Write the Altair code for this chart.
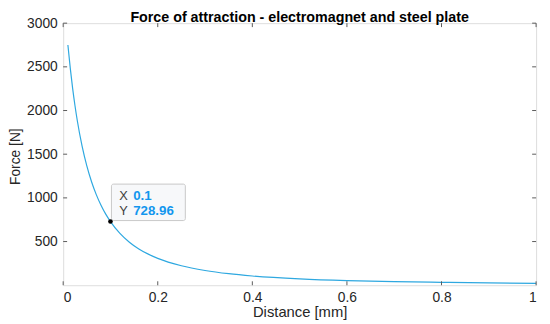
import altair as alt
import pandas as pd

# Curve values
distance = [0.01, 0.015, 0.02, 0.025, 0.03, 0.04, 0.05, 0.06, 0.07, 0.08, 0.09, 0.10,
            0.12, 0.14, 0.16, 0.18, 0.20, 0.25, 0.30, 0.35, 0.40, 0.50, 0.60,
            0.70, 0.80, 0.90, 1.00]
force = [2750, 2485, 2253, 2055, 1880, 1592, 1366, 1185, 1037, 916, 814, 729,
         594, 493, 416, 356, 308, 223, 169, 132, 106, 73, 53,
         41, 33, 26, 22]

tip_x = [0.1]
tip_y = [728.96]
tip_x_text = ["0.1"]
tip_y_text = ["728.96"]

x_ticks = [0, 0.2, 0.4, 0.6, 0.8, 1.0]
y_ticks = [500, 1000, 1500, 2000, 2500, 3000]

TITLE = ["Force of attraction - electromagnet and steel plate"]

FONT = "Liberation Sans"
W, H = 480, 266
xs = alt.Scale(domain=[0, 1], nice=False)
ys = alt.Scale(domain=[0, 3000], nice=False)

xaxis = alt.Axis(values=x_ticks, format="~g", ticks=False, domain=False, grid=False,
                 labelFont=FONT, labelFontSize=14, labelColor="#262626", labelPadding=6,
                 titleFont=FONT, titleFontSize=15, titleFontWeight="normal",
                 titleColor="#262626", titlePadding=0)
yaxis = alt.Axis(values=y_ticks, format="d", ticks=False, domain=False, grid=False,
                 labelFont=FONT, labelFontSize=14, labelColor="#262626", labelPadding=6,
                 titleFont=FONT, titleFontSize=14, titleFontWeight="normal",
                 titleColor="#262626", titleAngle=270, titleBaseline="bottom",
                 titleX=-41, titleY=H / 2 + 2)
XT = "Distance [mm]"
YT = "Force [N]"


def X(field):
    return alt.X(field, type="quantitative", scale=xs, axis=xaxis, title=XT)


def Y(field):
    return alt.Y(field, type="quantitative", scale=ys, axis=yaxis, title=YT)


df = pd.DataFrame({"d": distance, "f": force})
tip = pd.DataFrame({"d": tip_x, "f": tip_y, "tx": tip_x_text, "ty": tip_y_text})
xt = pd.DataFrame({"d": x_ticks})
yt = pd.DataFrame({"f": y_ticks})
tt = pd.DataFrame({"t": TITLE})

line = alt.Chart(df).mark_line(color="#2ea8e0", strokeWidth=1.2, interpolate="monotone").encode(
    x=X("d"), y=Y("f"))

tick_color = "#5a5a5a"
xb = alt.Chart(xt).mark_rule(color=tick_color).encode(x=X("d"), y=alt.value(H), y2=alt.value(H - 4))
xtop = alt.Chart(xt).mark_rule(color=tick_color).encode(x=X("d"), y=alt.value(0), y2=alt.value(4))
yl = alt.Chart(yt).mark_rule(color=tick_color).encode(y=Y("f"), x=alt.value(0), x2=alt.value(4))
yr = alt.Chart(yt).mark_rule(color=tick_color).encode(y=Y("f"), x=alt.value(W), x2=alt.value(W - 4))

box = alt.Chart(tip).mark_rect(fill="#f7f8fa", stroke="#c8c8c8", strokeWidth=1,
                                cornerRadius=2, xOffset=1, x2Offset=76,
                                yOffset=-38, y2Offset=-1).encode(
    x=X("d"), x2="d:Q", y=Y("f"), y2="f:Q")

dot = alt.Chart(tip).mark_circle(color="black", size=22, opacity=1).encode(x=X("d"), y=Y("f"))

lab_x = alt.Chart(tip).mark_text(text="X", align="left", baseline="middle", dx=9, dy=-26,
                                 font=FONT, fontSize=13, color="#404040").encode(x=X("d"), y=Y("f"))
lab_y = alt.Chart(tip).mark_text(text="Y", align="left", baseline="middle", dx=9, dy=-11,
                                 font=FONT, fontSize=13, color="#404040").encode(x=X("d"), y=Y("f"))
val_x = alt.Chart(tip).mark_text(align="left", baseline="middle", dx=23, dy=-26,
                                 font=FONT, fontSize=13.5, fontWeight="bold", color="#1296ee").encode(
    x=X("d"), y=Y("f"), text="tx:N")
val_y = alt.Chart(tip).mark_text(align="left", baseline="middle", dx=23, dy=-11,
                                 font=FONT, fontSize=13.5, fontWeight="bold", color="#1296ee").encode(
    x=X("d"), y=Y("f"), text="ty:N")

title = alt.Chart(tt).mark_text(align="center", baseline="alphabetic", font=FONT, fontSize=14.5,
                                fontWeight="bold", color="#000000").encode(
    x=alt.value(W / 2), y=alt.value(-1), text="t:N")

chart = alt.layer(line, xb, xtop, yl, yr, box, dot, lab_x, lab_y, val_x, val_y, title).properties(
    width=W, height=H,
    autosize=alt.AutoSizeParams(type="none"),
    padding={"left": 56, "top": 13, "right": 6, "bottom": 40},
).configure_view(stroke="#7a7a7a", strokeWidth=1).configure(background="white")

chart.save("out.html", embed_options={"renderer": "svg", "actions": False})
